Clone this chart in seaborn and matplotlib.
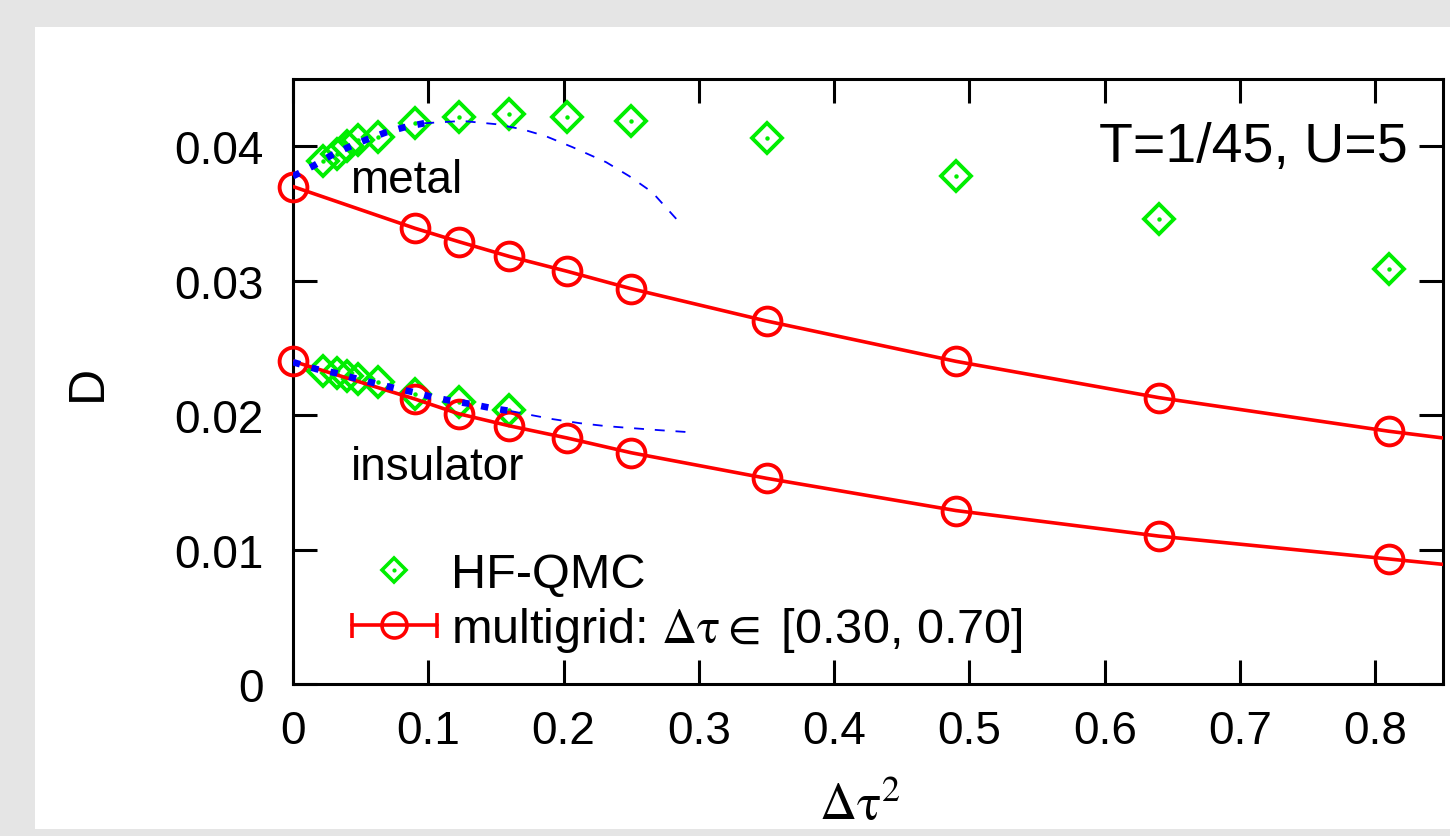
import numpy as np
import pandas as pd
import matplotlib
matplotlib.use("Agg")
import matplotlib.pyplot as plt
import seaborn as sns
from matplotlib.lines import Line2D
from matplotlib.legend_handler import HandlerBase, HandlerTuple
from matplotlib.patches import Rectangle

# ---------------- data ----------------
# multigrid (red circles), x = dtau^2
mg_x = [0.0, 0.09, 0.1225, 0.16, 0.2025, 0.25, 0.35, 0.49, 0.64, 0.81]
mg_metal = [0.0370, 0.0339, 0.0329, 0.0318, 0.0307, 0.0294, 0.0270, 0.0240, 0.0213, 0.0188]
mg_insul = [0.0240, 0.0212, 0.0201, 0.0192, 0.0183, 0.0172, 0.0153, 0.0129, 0.0110, 0.0093]

# red fit curves
fit_x = [0.0, 0.09, 0.1225, 0.16, 0.2025, 0.25, 0.35, 0.49, 0.64, 0.81, 0.85]
fit_metal = [0.0370, 0.0339, 0.0329, 0.0318, 0.0307, 0.0294, 0.0270, 0.0240, 0.0213, 0.0188, 0.0183]
fit_insul = [0.0240, 0.0212, 0.0201, 0.0192, 0.0183, 0.0172, 0.0153, 0.0129, 0.0110, 0.0093, 0.0089]

# HF-QMC (green diamonds)
qmc_metal_x = [0.0225, 0.0324, 0.04, 0.0484, 0.0625, 0.09, 0.1225, 0.16, 0.2025, 0.25, 0.35, 0.49, 0.64, 0.81]
qmc_metal = [0.0389, 0.0394, 0.0400, 0.0405, 0.0407, 0.0417, 0.0422, 0.0424, 0.0422, 0.0419, 0.0406, 0.0378, 0.0346, 0.0309]
qmc_insul_x = [0.0225, 0.0324, 0.04, 0.0484, 0.0625, 0.09, 0.1225, 0.16]
qmc_insul = [0.0233, 0.0231, 0.0229, 0.0227, 0.0225, 0.0216, 0.0210, 0.0204]

# blue extrapolation curves: thick (fit range) and thin (continuation)
ext_metal_thick_x = [0.0, 0.0144, 0.0284, 0.041, 0.055, 0.069, 0.0823, 0.097]
ext_metal_thick = [0.03777, 0.0385, 0.03933, 0.03993, 0.04052, 0.04104, 0.04141, 0.04171]
ext_metal_thin_x = [0.097, 0.1252, 0.150, 0.1695, 0.187, 0.2066, 0.2315, 0.2486, 0.2655, 0.2855]
ext_metal_thin = [0.04171, 0.04188, 0.04164, 0.04126, 0.04074, 0.03993, 0.03881, 0.03777, 0.03658, 0.03435]
ext_insul_thick_x = [0.0, 0.0174, 0.0322, 0.0455, 0.0602, 0.075, 0.089, 0.103, 0.118, 0.132, 0.1466, 0.161]
ext_insul_thick = [0.02394, 0.02342, 0.02312, 0.02275, 0.02238, 0.02201, 0.02171, 0.02134, 0.02104, 0.02082, 0.02052, 0.0203]
ext_insul_thin_x = [0.161, 0.1725, 0.192, 0.212, 0.2315, 0.2507, 0.2707, 0.2914]
ext_insul_thin = [0.0203, 0.02007, 0.0197, 0.0194, 0.01918, 0.01903, 0.01888, 0.01874]

x_ticks = [0, 0.1, 0.2, 0.3, 0.4, 0.5, 0.6, 0.7, 0.8]
x_ticklabels = ["0", "0.1", "0.2", "0.3", "0.4", "0.5", "0.6", "0.7", "0.8"]
y_ticks = [0, 0.01, 0.02, 0.03, 0.04]
y_ticklabels = ["0", "0.01", "0.02", "0.03", "0.04"]

# ---------------- styling ----------------
sns.set_style("ticks")
plt.rcParams["font.family"] = ["Liberation Sans", "DejaVu Sans"]
plt.rcParams["mathtext.fontset"] = "stix"
for k in ["text.color", "axes.labelcolor", "xtick.color", "ytick.color",
          "axes.edgecolor"]:
    plt.rcParams[k] = "black"

RED = "#ff0000"
GREEN = "#00ee00"
BLUE = "#0000ff"

fig = plt.figure(figsize=(14.5, 8.37), dpi=100, facecolor="#e5e5e5")
fig.patches.append(Rectangle((35 / 1450, 7 / 837), 1415 / 1450, 802 / 837,
                             transform=fig.transFigure, facecolor="white",
                             edgecolor="none", zorder=-10))
ax = fig.add_axes([293 / 1450, 152 / 837, 1150 / 1450, 605 / 837])
ax.set_facecolor("white")

# green diamonds
for xs, ys in [(qmc_metal_x, qmc_metal), (qmc_insul_x, qmc_insul)]:
    df = pd.DataFrame({"x": xs, "y": ys})
    sns.lineplot(data=df, x="x", y="y", ax=ax, linestyle="none", marker="D",
                 markersize=15.5, markerfacecolor="none", markeredgecolor=GREEN,
                 markeredgewidth=2.8, errorbar=None, sort=False, zorder=3)
    sns.lineplot(data=df, x="x", y="y", ax=ax, linestyle="none", marker="o",
                 markersize=3.2, markerfacecolor=GREEN, markeredgecolor=GREEN,
                 markeredgewidth=0, errorbar=None, sort=False, zorder=3)

# red fit curves + circles
for ys in [fit_metal, fit_insul]:
    df = pd.DataFrame({"x": fit_x, "y": ys})
    sns.lineplot(data=df, x="x", y="y", ax=ax, color=RED, linewidth=2.6,
                 errorbar=None, sort=False, zorder=4)
for ys in [mg_metal, mg_insul]:
    df = pd.DataFrame({"x": mg_x, "y": ys})
    sns.lineplot(data=df, x="x", y="y", ax=ax, linestyle="none", marker="o",
                 markersize=20, markerfacecolor="none", markeredgecolor=RED,
                 markeredgewidth=2.8, errorbar=None, sort=False, zorder=5,
                 clip_on=False)

# blue extrapolations
for xs, ys in [(ext_metal_thick_x, ext_metal_thick), (ext_insul_thick_x, ext_insul_thick)]:
    df = pd.DataFrame({"x": xs, "y": ys})
    sns.lineplot(data=df, x="x", y="y", ax=ax, color=BLUE, linewidth=4.8,
                 linestyle=(0, (1.1, 1.8)), errorbar=None, sort=False, zorder=6,
                 dash_capstyle="butt")
for xs, ys in [(ext_metal_thin_x, ext_metal_thin), (ext_insul_thin_x, ext_insul_thin)]:
    df = pd.DataFrame({"x": xs, "y": ys})
    sns.lineplot(data=df, x="x", y="y", ax=ax, color=BLUE, linewidth=1.3,
                 linestyle=(0, (5.5, 6.0)), errorbar=None, sort=False, zorder=6)

ax.set_xlim(0, 0.85)
ax.set_ylim(0, 0.045)
ax.set_xticks(x_ticks)
ax.set_xticklabels(x_ticklabels, fontsize=33)
ax.set_yticks(y_ticks)
ax.set_yticklabels(y_ticklabels, fontsize=33)
ax.tick_params(axis="both", direction="in", length=17, width=2.2,
               top=True, right=True, color="black", labelcolor="black")
ax.tick_params(axis="x", pad=18)
ax.tick_params(axis="y", pad=21)
for s in ax.spines.values():
    s.set_visible(True)
    s.set_linewidth(2.2)
    s.set_color("black")

ax.set_xlabel(r"$\mathrm{\Delta\tau}^{2}$", fontsize=37, color="black")
ax.xaxis.set_label_coords(0.493, -0.16)
ax.set_ylabel("D", fontsize=36, color="black")
ax.yaxis.set_label_coords(-0.158, 0.5)

ax.text(0.0425, 0.03658, "metal", fontsize=33, ha="left", va="baseline",
        color="black")
ax.text(0.0425, 0.01524, "insulator", fontsize=33, ha="left", va="baseline",
        color="black")
ax.text(0.824, 0.03888, "T=1/45, U=5", fontsize=40, ha="right",
        va="baseline", color="black")


class ErrHandler(HandlerBase):
    def create_artists(self, legend, orig_handle, xdescent, ydescent,
                       width, height, fontsize, trans):
        y = (height - ydescent) / 2
        x0, x1 = -xdescent, -xdescent + width
        line = Line2D([x0, x1], [y, y], color=RED, lw=2.6)
        caps = Line2D([x0, x1], [y, y], ls="none", marker="|", ms=18,
                      mew=2.6, color=RED)
        circ = Line2D([(x0 + x1) / 2], [y], ls="none", marker="o", ms=18,
                      mfc="none", mec=RED, mew=2.6)
        for a in (line, caps, circ):
            a.set_transform(trans)
        return [line, caps, circ]


h_dia = Line2D([], [], ls="none", marker="D", ms=12, mfc="none",
               mec=GREEN, mew=2.6)
h_dot = Line2D([], [], ls="none", marker="o", ms=3, mfc=GREEN, mec=GREEN, mew=0)
h_mg = Line2D([], [], color=RED)
leg = ax.legend([(h_dia, h_dot), h_mg],
                ["HF-QMC", r"multigrid: $\mathrm{\Delta\tau \in}$ [0.30, 0.70]"],
                handler_map={tuple: HandlerTuple(ndivide=1, pad=0),
                             h_mg: ErrHandler()},
                loc="lower left", bbox_to_anchor=(0.051, 0.05),
                frameon=False, fontsize=35, handlelength=1.75,
                handletextpad=0.3, labelspacing=0.15, borderpad=0,
                borderaxespad=0, labelcolor="black")

fig.savefig("out.png", dpi=100, facecolor=fig.get_facecolor())
